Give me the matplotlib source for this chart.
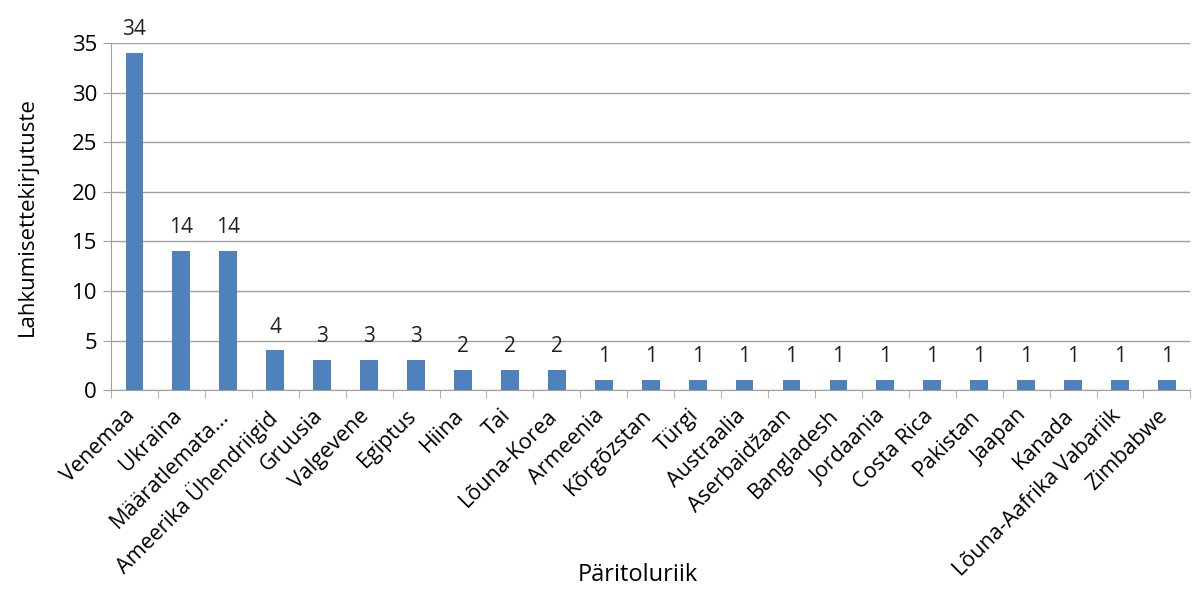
import numpy as np
import matplotlib.pyplot as plt
import matplotlib.transforms as mtransforms

plt.rcParams.update({
    'font.family': ['Open Sans', 'DejaVu Sans'],
    'font.size': 15,
})

countries = ['Venemaa', 'Ukraina', 'Määratlemata...', 'Ameerika Ühendriigid', 'Gruusia',
             'Valgevene', 'Egiptus', 'Hiina', 'Tai', 'Lõuna-Korea', 'Armeenia',
             'Kõrgõzstan', 'Türgi', 'Austraalia', 'Aserbaidžaan', 'Bangladesh',
             'Jordaania', 'Costa Rica', 'Pakistan', 'Jaapan', 'Kanada',
             'Lõuna-Aafrika Vabariik', 'Zimbabwe']
counts = [34, 14, 14, 4, 3, 3, 3, 2, 2, 2, 1, 1, 1, 1, 1, 1, 1, 1, 1, 1, 1, 1, 1]

x = np.arange(len(countries))

fig = plt.figure(figsize=(12, 6.01), dpi=100)
ax = fig.add_axes([0.0925, 0.351, 0.8995, 0.577])

bars = ax.bar(x, counts, width=0.38, color='#4f81bd', zorder=3)
for xi, v in zip(x, counts):
    ax.text(xi, v + 1.3, str(v), ha='center', va='bottom', fontsize=15, color='#222222')

ax.set_xlim(-0.5, len(countries) - 0.5)
ax.set_ylim(0, 35)
ax.set_yticks(np.arange(0, 36, 5))
ax.yaxis.grid(True, color='#a0a0a0', linewidth=1, zorder=0)

ax.set_xticks(x)
ax.set_xticklabels(countries, rotation=45, ha='right', rotation_mode='anchor', fontsize=15.5)
ax.tick_params(axis='x', length=0, pad=11)
shift = mtransforms.ScaledTranslation(-10 / 100, 0, fig.dpi_scale_trans)
for lbl in ax.get_xticklabels():
    lbl.set_transform(lbl.get_transform() + shift)
ax.set_xticks(np.arange(-0.5, len(countries)), minor=True)
ax.tick_params(axis='x', which='minor', length=6, color='#a0a0a0')
ax.tick_params(axis='y', length=6, color='#a0a0a0', labelsize=16, pad=4)

for s in ['top', 'right']:
    ax.spines[s].set_visible(False)
for s in ['left', 'bottom']:
    ax.spines[s].set_color('#a0a0a0')

ax.set_ylabel('Lahkumisettekirjutuste', fontsize=16, labelpad=24)
ax.set_xlabel('Päritoluriik', fontsize=17, va='center')
ax.xaxis.set_label_coords(0.488, -0.533)

fig.savefig('out.png', dpi=100)
